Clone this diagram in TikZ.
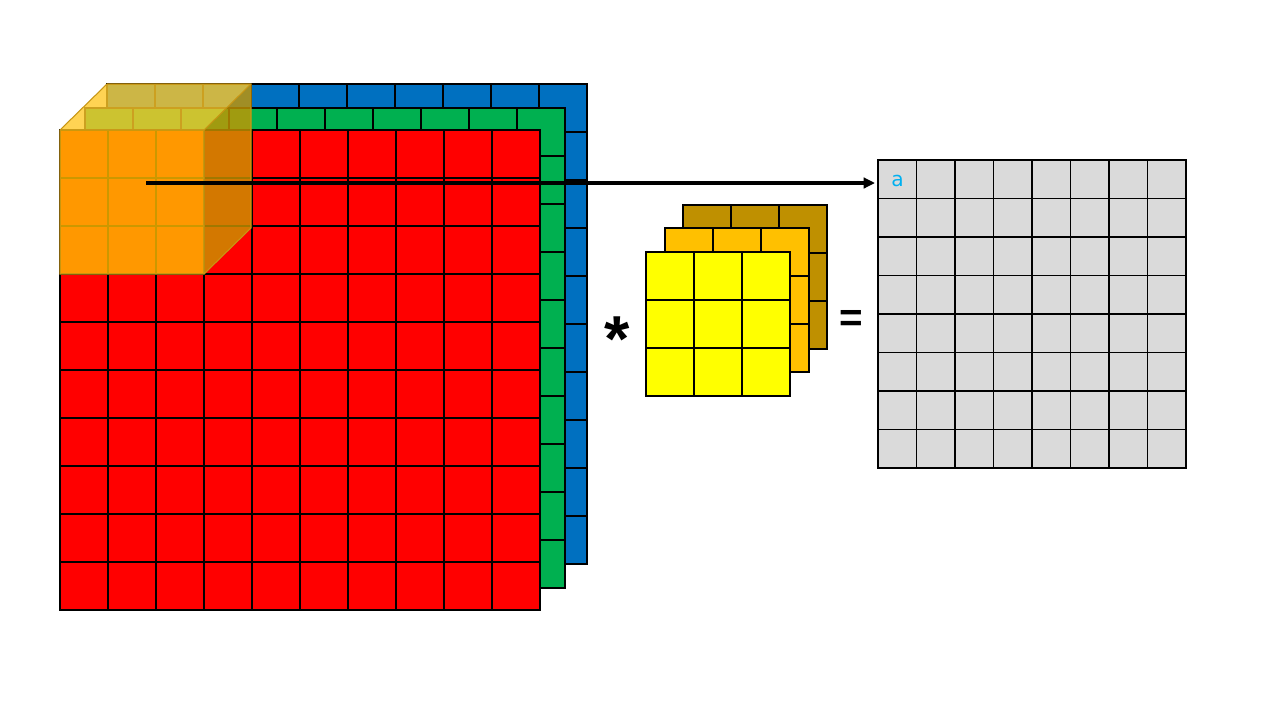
\documentclass[tikz,border=0pt]{standalone}
\usepackage{fontspec}
\setsansfont{Liberation Sans}
\newfontfamily\labelfont{DejaVu Sans}
\usepackage{xcolor}
\usepackage{tikz}
\usetikzlibrary{arrows.meta}
\definecolor{layerred}{RGB}{255,0,0}
\definecolor{layergreen}{RGB}{0,176,80}
\definecolor{layerblue}{RGB}{0,112,192}
\definecolor{kfront}{RGB}{255,255,0}
\definecolor{kmid}{RGB}{255,192,0}
\definecolor{kback}{RGB}{191,144,0}
\definecolor{cubefront}{RGB}{255,190,0}
\definecolor{cubetop}{RGB}{255,200,40}
\definecolor{cubeside}{RGB}{200,150,0}
\definecolor{cubeedge}{RGB}{200,150,20}
\definecolor{outgray}{RGB}{218,218,218}
\definecolor{outtext}{RGB}{0,176,240}

\begin{document}
\begin{tikzpicture}[x=0.02cm,y=-0.02cm,>={Triangle[length=6.5pt,width=6pt]},
  gridline/.style={line width=0.6pt},
  facet/.style={opacity=0.8},
  sign/.style={font=\sffamily\bfseries,anchor=base,inner sep=0pt}]
\useasboundingbox(0,0)rectangle(1280,720);
% input volume: blue, green, red channels
\foreach \dx/\dy/\col in {47/46/layerblue,25/22/layergreen,0/0/layerred}{
  \draw[gridline,fill=\col](60+\dx,130-\dy)rectangle(540+\dx,610-\dy);
  \foreach \k in {1,...,9}{
    \draw[gridline](60+\dx+48*\k,130-\dy)--(60+\dx+48*\k,610-\dy);
    \draw[gridline](60+\dx,130-\dy+48*\k)--(540+\dx,130-\dy+48*\k);}
}
% receptive field
\fill[facet,cubetop](60,130)--(107,84)--(251,84)--(204,130)--cycle;
\fill[facet,cubeside](204,130)--(251,84)--(251,228)--(204,274)--cycle;
\fill[facet,cubefront](60,130)rectangle(204,274);
\draw[cubeedge,line width=0.6pt](60,130)--(107,84)--(251,84)--(251,228)--(204,274)
  (204,130)--(251,84) (60,130)rectangle(204,274);
% kernel
\foreach \dx/\dy/\col in {37/47/kback,19/24/kmid,0/0/kfront}{
  \draw[gridline,fill=\col](646+\dx,252-\dy)rectangle(790+\dx,396-\dy);
  \foreach \k in {1,2}{
    \draw[gridline](646+\dx+48*\k,252-\dy)--(646+\dx+48*\k,396-\dy);
    \draw[gridline](646+\dx,252-\dy+48*\k)--(790+\dx,252-\dy+48*\k);}
}
% output map
\draw[gridline,fill=outgray](878,160)rectangle(1186,468);
\foreach \k in {1,...,7}{
  \draw[gridline](878+38.5*\k,160)--(878+38.5*\k,468);
  \draw[gridline](878,160+38.5*\k)--(1186,160+38.5*\k);}
\node[sign,font=\sffamily\bfseries\fontsize{37}{37}\selectfont](conv)at(617,361){*};
\node[sign,font=\sffamily\bfseries\fontsize{23}{23}\selectfont](equals)at(851,331){=};
\node[font=\labelfont\fontsize{11.5}{12}\selectfont,text=outtext,anchor=base west,inner sep=0pt](outa)at(891,186){a};
\coordinate(src)at(146,183);
\coordinate(tip)at(875,183);
\draw[->,line width=2pt](src)--(tip);
\end{tikzpicture}
\end{document}
